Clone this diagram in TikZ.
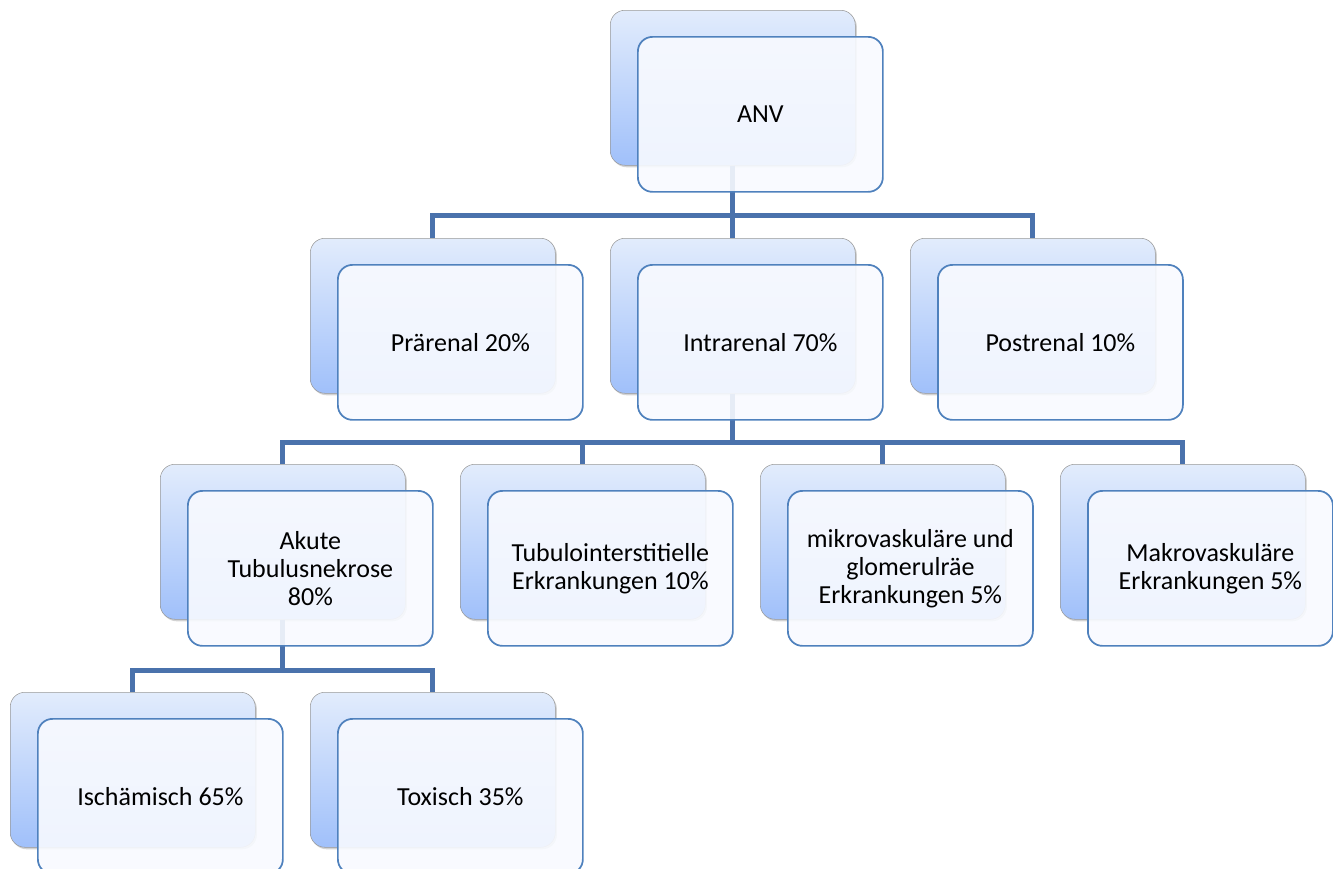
\documentclass[tikz,border=0pt]{standalone}
\usepackage{fontspec}
\setmainfont{Carlito}
\usetikzlibrary{positioning, shadows}
\definecolor{linkblue}{HTML}{4A72AC}
\definecolor{frontline}{HTML}{4F81BD}
\definecolor{backtop}{HTML}{E2ECFC}
\definecolor{backbottom}{HTML}{A0C0FA}
\definecolor{frontfill}{HTML}{F8FAFF}
\pgfdeclarelayer{front}
\pgfsetlayers{main,front}
\tikzset{
  backbox/.style={rectangle, rounded corners=11pt, minimum width=183.75pt, minimum height=116.25pt,
    anchor=north west, draw=gray!80, top color=backtop, bottom color=backbottom,
    drop shadow={shadow xshift=1.2pt, shadow yshift=-1.5pt, opacity=0.35}},
  frontbox/.style={rectangle, rounded corners=11pt, minimum width=183.75pt, minimum height=116.25pt,
    draw=frontline, line width=1.3pt, fill=frontfill, fill opacity=0.9, text opacity=1,
    align=center, font=\fontsize{19.5}{21}\selectfont},
  branch/.style={draw=linkblue, line width=3.75pt}
}
\newcommand{\frontof}[3]{\node (#1) [frontbox, anchor=north west] at ([xshift=20.25pt, yshift=-19.5pt]#2.north west) {#3};}

\begin{document}
\begin{tikzpicture}[x=0.75pt, y=-0.75pt]
\useasboundingbox (0,0) rectangle (1333,868);

% Back boxes
\node (anvb) [backbox] at (610,10) {};
\node (praerenalb) [backbox] at (310,238) {};
\node (intrarenalb) [backbox] at (610,238) {};
\node (postrenalb) [backbox] at (910,238) {};
\node (atnb) [backbox] at (160,464) {};
\node (tinb) [backbox] at (460,464) {};
\node (mikrob) [backbox] at (760,464) {};
\node (makrob) [backbox] at (1060,464) {};
\node (ischaemischb) [backbox] at (10,692) {};
\node (toxischb) [backbox] at (310,692) {};

% Connectors
\draw [branch] (anvb.south) -- ++(0,50) coordinate (bus1);
\draw [branch] (anvb.south) -- (intrarenalb.north);
\draw [branch] (praerenalb.north) |- (bus1) -| (postrenalb.north);

\draw [branch] (intrarenalb.south) -- ++(0,49) coordinate (bus2);
\draw [branch] (atnb.north) |- (bus2) -| (makrob.north);
\draw [branch] (tinb.north) |- (bus2);
\draw [branch] (mikrob.north) |- (bus2);

\draw [branch] (atnb.south) -- ++(0,51) coordinate (bus3);
\draw [branch] (ischaemischb.north) |- (bus3) -| (toxischb.north);

% Front boxes
\begin{pgfonlayer}{front}
\frontof{anv}{anvb}{ANV}
\frontof{praerenal}{praerenalb}{Prärenal 20\%}
\frontof{intrarenal}{intrarenalb}{Intrarenal 70\%}
\frontof{postrenal}{postrenalb}{Postrenal 10\%}
\frontof{atn}{atnb}{Akute\\Tubulusnekrose\\80\%}
\frontof{tin}{tinb}{Tubulointerstitielle\\Erkrankungen 10\%}
\frontof{mikro}{mikrob}{mikrovaskuläre und\\glomerulräe\\Erkrankungen 5\%}
\frontof{makro}{makrob}{Makrovaskuläre\\Erkrankungen 5\%}
\frontof{ischaemisch}{ischaemischb}{Ischämisch 65\%}
\frontof{toxisch}{toxischb}{Toxisch 35\%}
\end{pgfonlayer}

\end{tikzpicture}
\end{document}
